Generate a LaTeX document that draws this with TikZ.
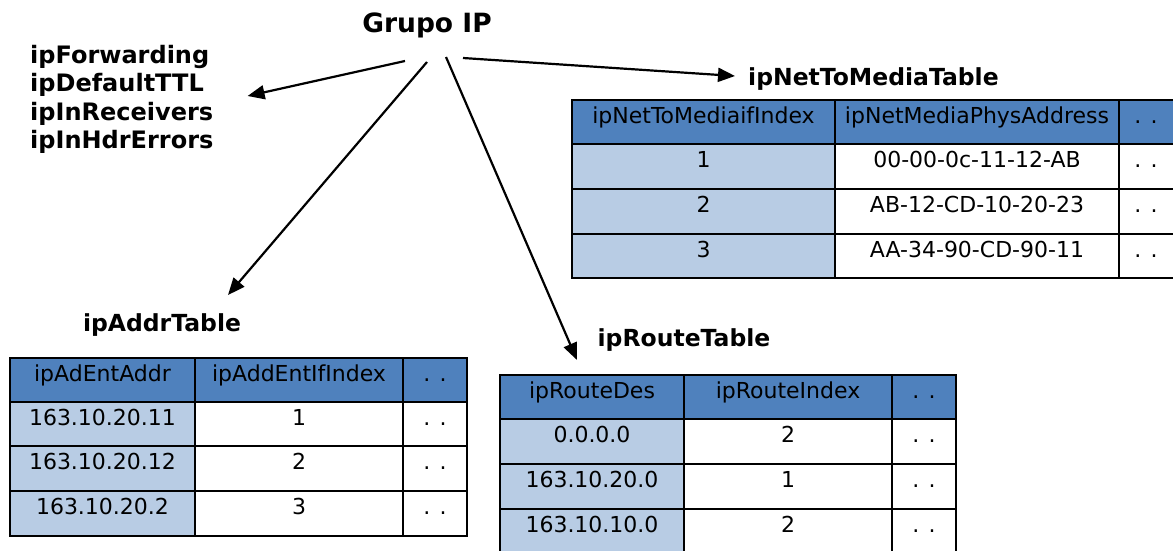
\documentclass[tikz,border=0pt]{standalone}
\usepackage{fontspec}
\setmainfont{DejaVu Sans}
\usetikzlibrary{arrows.meta,calc}
\definecolor{hdrblue}{HTML}{4F81BD}
\definecolor{keyblue}{HTML}{B8CCE4}
\tikzset{
    tblline/.style={line width=1.8pt},
    celltxt/.style={anchor=base, inner sep=0pt, font=\fontsize{22}{25}\selectfont},
    ttl/.style={anchor=base, inner sep=0pt, font=\bfseries\fontsize{23.5}{28}\selectfont},
    conn/.style={line width=2.2pt, -{Triangle[length=17pt,width=14pt]}},
}

\begin{document}
\begin{tikzpicture}[x=1pt, y=-1pt]
    \useasboundingbox (0,0) rectangle (1173,551);

    % Group and its scalar objects
    \node[ttl, font=\bfseries\fontsize{26.5}{30}\selectfont] (grupo) at (427,33) {Grupo IP};
    \node[ttl, anchor=north west, align=left, font=\bfseries\fontsize{24}{28.3}\selectfont] (vars) at (30,45)
        {ipForwarding\\ipDefaultTTL\\ipInReceivers\\ipInHdrErrors};

    % Table titles
    \node[ttl] (addrT) at (162,331) {ipAddrTable};
    \node[ttl] (routeT) at (684,346) {ipRouteTable};
    \node[ttl, anchor=base west] (netT) at (748,85) {ipNetToMediaTable};

    % Arrows out of the group
    \draw[conn] ($(grupo.base)+(-22,28)$) -- ($(vars.north east)+(34,51)$);
    \draw[conn] ($(grupo.base)+(0,29)$) -- ($(addrT.base)+(66,-36)$);
    \draw[conn] ($(grupo.base)+(19,24)$) -- ($(routeT.base)+(-107,14)$);
    \draw[conn] ($(grupo.base)+(36,25)$) -- ($(netT.base west)+(-13,-9)$);

    % ipAddrTable
    \fill[hdrblue] (10,358) rectangle (467,402);
    \fill[keyblue] (10,402) rectangle (195,536);
    \draw[tblline] (10,358) rectangle (467,536);
    \foreach \y in {402,446,491}
        \draw[tblline] (10,\y) -- (467,\y);
    \foreach \x in {195,403}
        \draw[tblline] (\x,358) -- (\x,536);
    \node[celltxt] (addr-h1) at (102.5,381) {ipAdEntAddr};
    \node[celltxt] (addr-h2) at (299,381) {ipAddEntIfIndex};
    \node[celltxt] (addr-h3) at (435,381) {. .};
    \foreach \yb/\ip/\idx [count=\i] in {425/163.10.20.11/1, 469/163.10.20.12/2, 514/163.10.20.2/3} {
        \node[celltxt] (addr-\i-1) at (102.5,\yb) {\ip};
        \node[celltxt] (addr-\i-2) at (299,\yb) {\idx};
        \node[celltxt] (addr-\i-3) at (435,\yb) {. .};
    }

    % ipRouteTable
    \fill[hdrblue] (500,375) rectangle (956,419);
    \fill[keyblue] (500,419) rectangle (684,554);
    \draw[tblline] (500,375) rectangle (956,554);
    \foreach \y in {419,464,509}
        \draw[tblline] (500,\y) -- (956,\y);
    \foreach \x in {684,892}
        \draw[tblline] (\x,375) -- (\x,554);
    \node[celltxt] (route-h1) at (592,398) {ipRouteDes};
    \node[celltxt] (route-h2) at (788,398) {ipRouteIndex};
    \node[celltxt] (route-h3) at (924,398) {. .};
    \foreach \yb/\ip/\idx [count=\i] in {442/0.0.0.0/2, 487/163.10.20.0/1, 532/163.10.10.0/2} {
        \node[celltxt] (route-\i-1) at (592,\yb) {\ip};
        \node[celltxt] (route-\i-2) at (788,\yb) {\idx};
        \node[celltxt] (route-\i-3) at (924,\yb) {. .};
    }

    % ipNetToMediaTable
    \fill[hdrblue] (572,100) rectangle (1174,144);
    \fill[keyblue] (572,144) rectangle (835,278);
    \draw[tblline] (572,100) rectangle (1174,278);
    \foreach \y in {144,189,234}
        \draw[tblline] (572,\y) -- (1174,\y);
    \foreach \x in {835,1119}
        \draw[tblline] (\x,100) -- (\x,278);
    \node[celltxt] (net-h1) at (703.5,123) {ipNetToMediaifIndex};
    \node[celltxt] (net-h2) at (977,123) {ipNetMediaPhysAddress};
    \node[celltxt] (net-h3) at (1146,123) {. .};
    \foreach \yb/\idx/\mac [count=\i] in {167/1/00-00-0c-11-12-AB, 212/2/AB-12-CD-10-20-23, 257/3/AA-34-90-CD-90-11} {
        \node[celltxt] (net-\i-1) at (703.5,\yb) {\idx};
        \node[celltxt] (net-\i-2) at (977,\yb) {\mac};
        \node[celltxt] (net-\i-3) at (1146,\yb) {. .};
    }
\end{tikzpicture}
\end{document}
